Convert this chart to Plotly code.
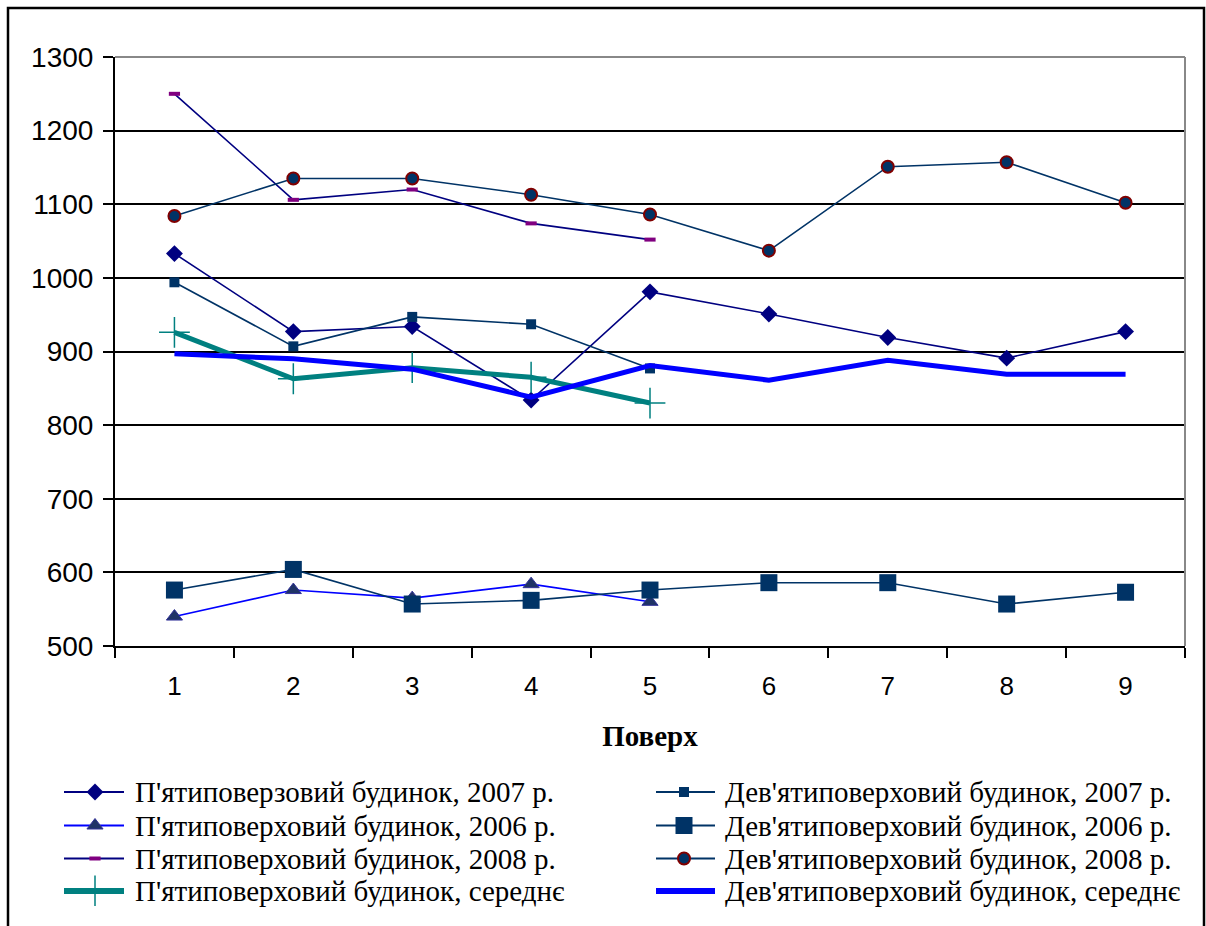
import plotly.graph_objects as go

floors = ["1", "2", "3", "4", "5", "6", "7", "8", "9"]

five_2007 = [1033, 927, 934, 834, 981, 951, 919, 891, 927]
nine_2007 = [994, 907, 947, 937, 877]
five_2006 = [540, 576, 565, 584, 560]
nine_2006 = [576, 604, 557, 562, 576, 586, 586, 557, 573]
five_2008 = [1250, 1106, 1120, 1074, 1052]
nine_2008 = [1084, 1135, 1135, 1113, 1086, 1037, 1151, 1157, 1102]
five_avg = [926, 863, 878, 865, 830]
nine_avg = [897, 890, 876, 838, 881, 861, 888, 869, 869]

names = [
    "П'ятиповерзовий будинок, 2007 р.",
    "Дев'ятиповерховий будинок, 2007 р.",
    "П'ятиповерховий будинок, 2006 р.",
    "Дев'ятиповерховий будинок, 2006 р.",
    "П'ятиповерховий будинок, 2008 р.",
    "Дев'ятиповерховий будинок, 2008 р.",
    "П'ятиповерховий будинок, середнє",
    "Дев'ятиповерховий будинок, середнє",
]

styles = [
    dict(lc="#000080", lw=1.6, m=dict(symbol="diamond", size=13, color="#000080")),
    dict(lc="#003366", lw=1.6, m=dict(symbol="square", size=10, color="#003366")),
    dict(lc="#0000FF", lw=1.6, m=dict(symbol="triangle-up", size=14, color="#1F3366",
                                       line=dict(color="#333399", width=1))),
    dict(lc="#003366", lw=1.6, m=dict(symbol="square", size=17, color="#003366")),
    dict(lc="#000080", lw=1.6, m=dict(symbol="line-ew", size=8, color="#800080",
                                       line=dict(color="#800080", width=4))),
    dict(lc="#003366", lw=1.6, m=dict(symbol="circle", size=12, color="#003366",
                                       line=dict(color="#800000", width=2))),
    dict(lc="#008080", lw=5, m=dict(symbol="cross-thin", size=22, color="#008080",
                                     line=dict(color="#008080", width=1.5))),
    dict(lc="#0000FF", lw=5, m=None),
]
series = [five_2007, nine_2007, five_2006, nine_2006, five_2008, nine_2008, five_avg, nine_avg]

W, H = 1206, 926
# paper area (pixels)
ML, MR, MT, MB = 50, 21, 57, 20
PX0, PX1, PY0, PY1 = ML, W - MR, MT, H - MB
PW, PH = PX1 - PX0, PY1 - PY0
# main plot area (pixels)
AX0, AX1, AY0, AY1 = 115, W - MR, MT, 646


def px(xp):
    return (xp - PX0) / PW


def py(yp):
    return (PY1 - yp) / PH


fig = go.Figure()
for y, name, st in zip(series, names, styles):
    fig.add_trace(go.Scatter(
        x=floors[:len(y)], y=y, name=name,
        mode="lines+markers" if st["m"] else "lines",
        line=dict(color=st["lc"], width=st["lw"]),
        marker=st["m"] or {}, showlegend=False,
    ))

# ---- legend (two columns, Excel style) ----
cols = [dict(x0=64, x1=124, xm=95, xt=133), dict(x0=656, x1=715, xm=684, xt=723)]
rows = [792, 825.5, 858.5, 891]

shapes, annotations = [], []
mk_x, mk_y, mk_sym, mk_size, mk_col, mk_lc, mk_lw = [], [], [], [], [], [], []
for i, (name, st) in enumerate(zip(names, styles)):
    c = cols[i % 2]
    r = rows[i // 2]
    shapes.append(dict(type="line", xref="paper", yref="paper", layer="below",
                       x0=px(c["x0"]), x1=px(c["x1"]), y0=py(r), y1=py(r),
                       line=dict(color=st["lc"], width=2 if st["lw"] < 3 else 6)))
    annotations.append(dict(xref="paper", yref="paper", x=px(c["xt"]), y=py(r),
                            xanchor="left", yanchor="middle", showarrow=False, text=name,
                            font=dict(family="Liberation Serif, Times New Roman", size=29,
                                      color="black")))
    if st["m"]:
        m = st["m"]
        mk_x.append(c["xm"])
        mk_y.append(r)
        mk_sym.append(m["symbol"])
        mk_size.append(m["size"])
        mk_col.append(m["color"])
        ml = m.get("line", {})
        mk_lc.append(ml.get("color", m["color"]))
        mk_lw.append(ml.get("width", 0))

fig.add_trace(go.Scatter(
    x=mk_x, y=mk_y, xaxis="x2", yaxis="y2", mode="markers",
    showlegend=False, hoverinfo="skip",
    marker=dict(symbol=mk_sym, size=mk_size, color=mk_col, opacity=1,
                line=dict(color=mk_lc, width=mk_lw)),
))

shapes += [
    dict(type="line", xref="paper", yref="paper", x0=px(AX0), x1=px(AX1), y0=py(AY0), y1=py(AY0),
         line=dict(color="#888888", width=2), layer="above"),
    dict(type="line", xref="paper", yref="paper", x0=px(AX1), x1=px(AX1), y0=py(AY1), y1=py(AY0),
         line=dict(color="#888888", width=2), layer="above"),
    dict(type="rect", xref="paper", yref="paper",
         x0=px(8), x1=px(1204), y0=py(960), y1=py(8),
         line=dict(color="black", width=2.5), layer="below"),
]

fig.update_layout(
    width=W, height=H,
    margin=dict(l=ML, r=MR, t=MT, b=MB, autoexpand=False),
    paper_bgcolor="white", plot_bgcolor="rgba(0,0,0,0)",
    font=dict(family="Liberation Sans, Arial", color="black", size=24),
    showlegend=False,
    xaxis=dict(
        domain=[px(AX0), px(AX1)], anchor="y", automargin=False,
        type="category", tickson="boundaries", ticks="outside", ticklen=10,
        tickwidth=2, tickcolor="black", showline=True, linecolor="black", linewidth=2,
        showgrid=False, range=[-0.5, 8.5], ticklabelstandoff=16,
        tickfont=dict(family="Liberation Sans, Arial", size=26),
        title=dict(text="<b>Поверх</b>", standoff=25,
                   font=dict(family="Liberation Serif, Times New Roman", size=29)),
    ),
    yaxis=dict(
        domain=[py(AY1), py(AY0)], anchor="x", automargin=False,
        range=[500, 1300], dtick=100, tick0=500, ticks="outside", ticklen=10,
        tickwidth=2, tickcolor="black", showline=True, linecolor="black", linewidth=2,
        showgrid=True, gridcolor="black", gridwidth=2, zeroline=False,
        ticklabelstandoff=4,
        tickfont=dict(family="Liberation Sans, Arial", size=28),
    ),
    xaxis2=dict(domain=[0, 1], anchor="y2", range=[PX0, PX1], visible=False,
                fixedrange=True, automargin=False),
    yaxis2=dict(domain=[0, 1], anchor="x2", range=[PY1, PY0], visible=False,
                fixedrange=True, automargin=False),
    shapes=shapes,
    annotations=annotations,
)

fig.write_html("out.html", config={"displayModeBar": False},
               post_script="document.body.style.margin='0';")
